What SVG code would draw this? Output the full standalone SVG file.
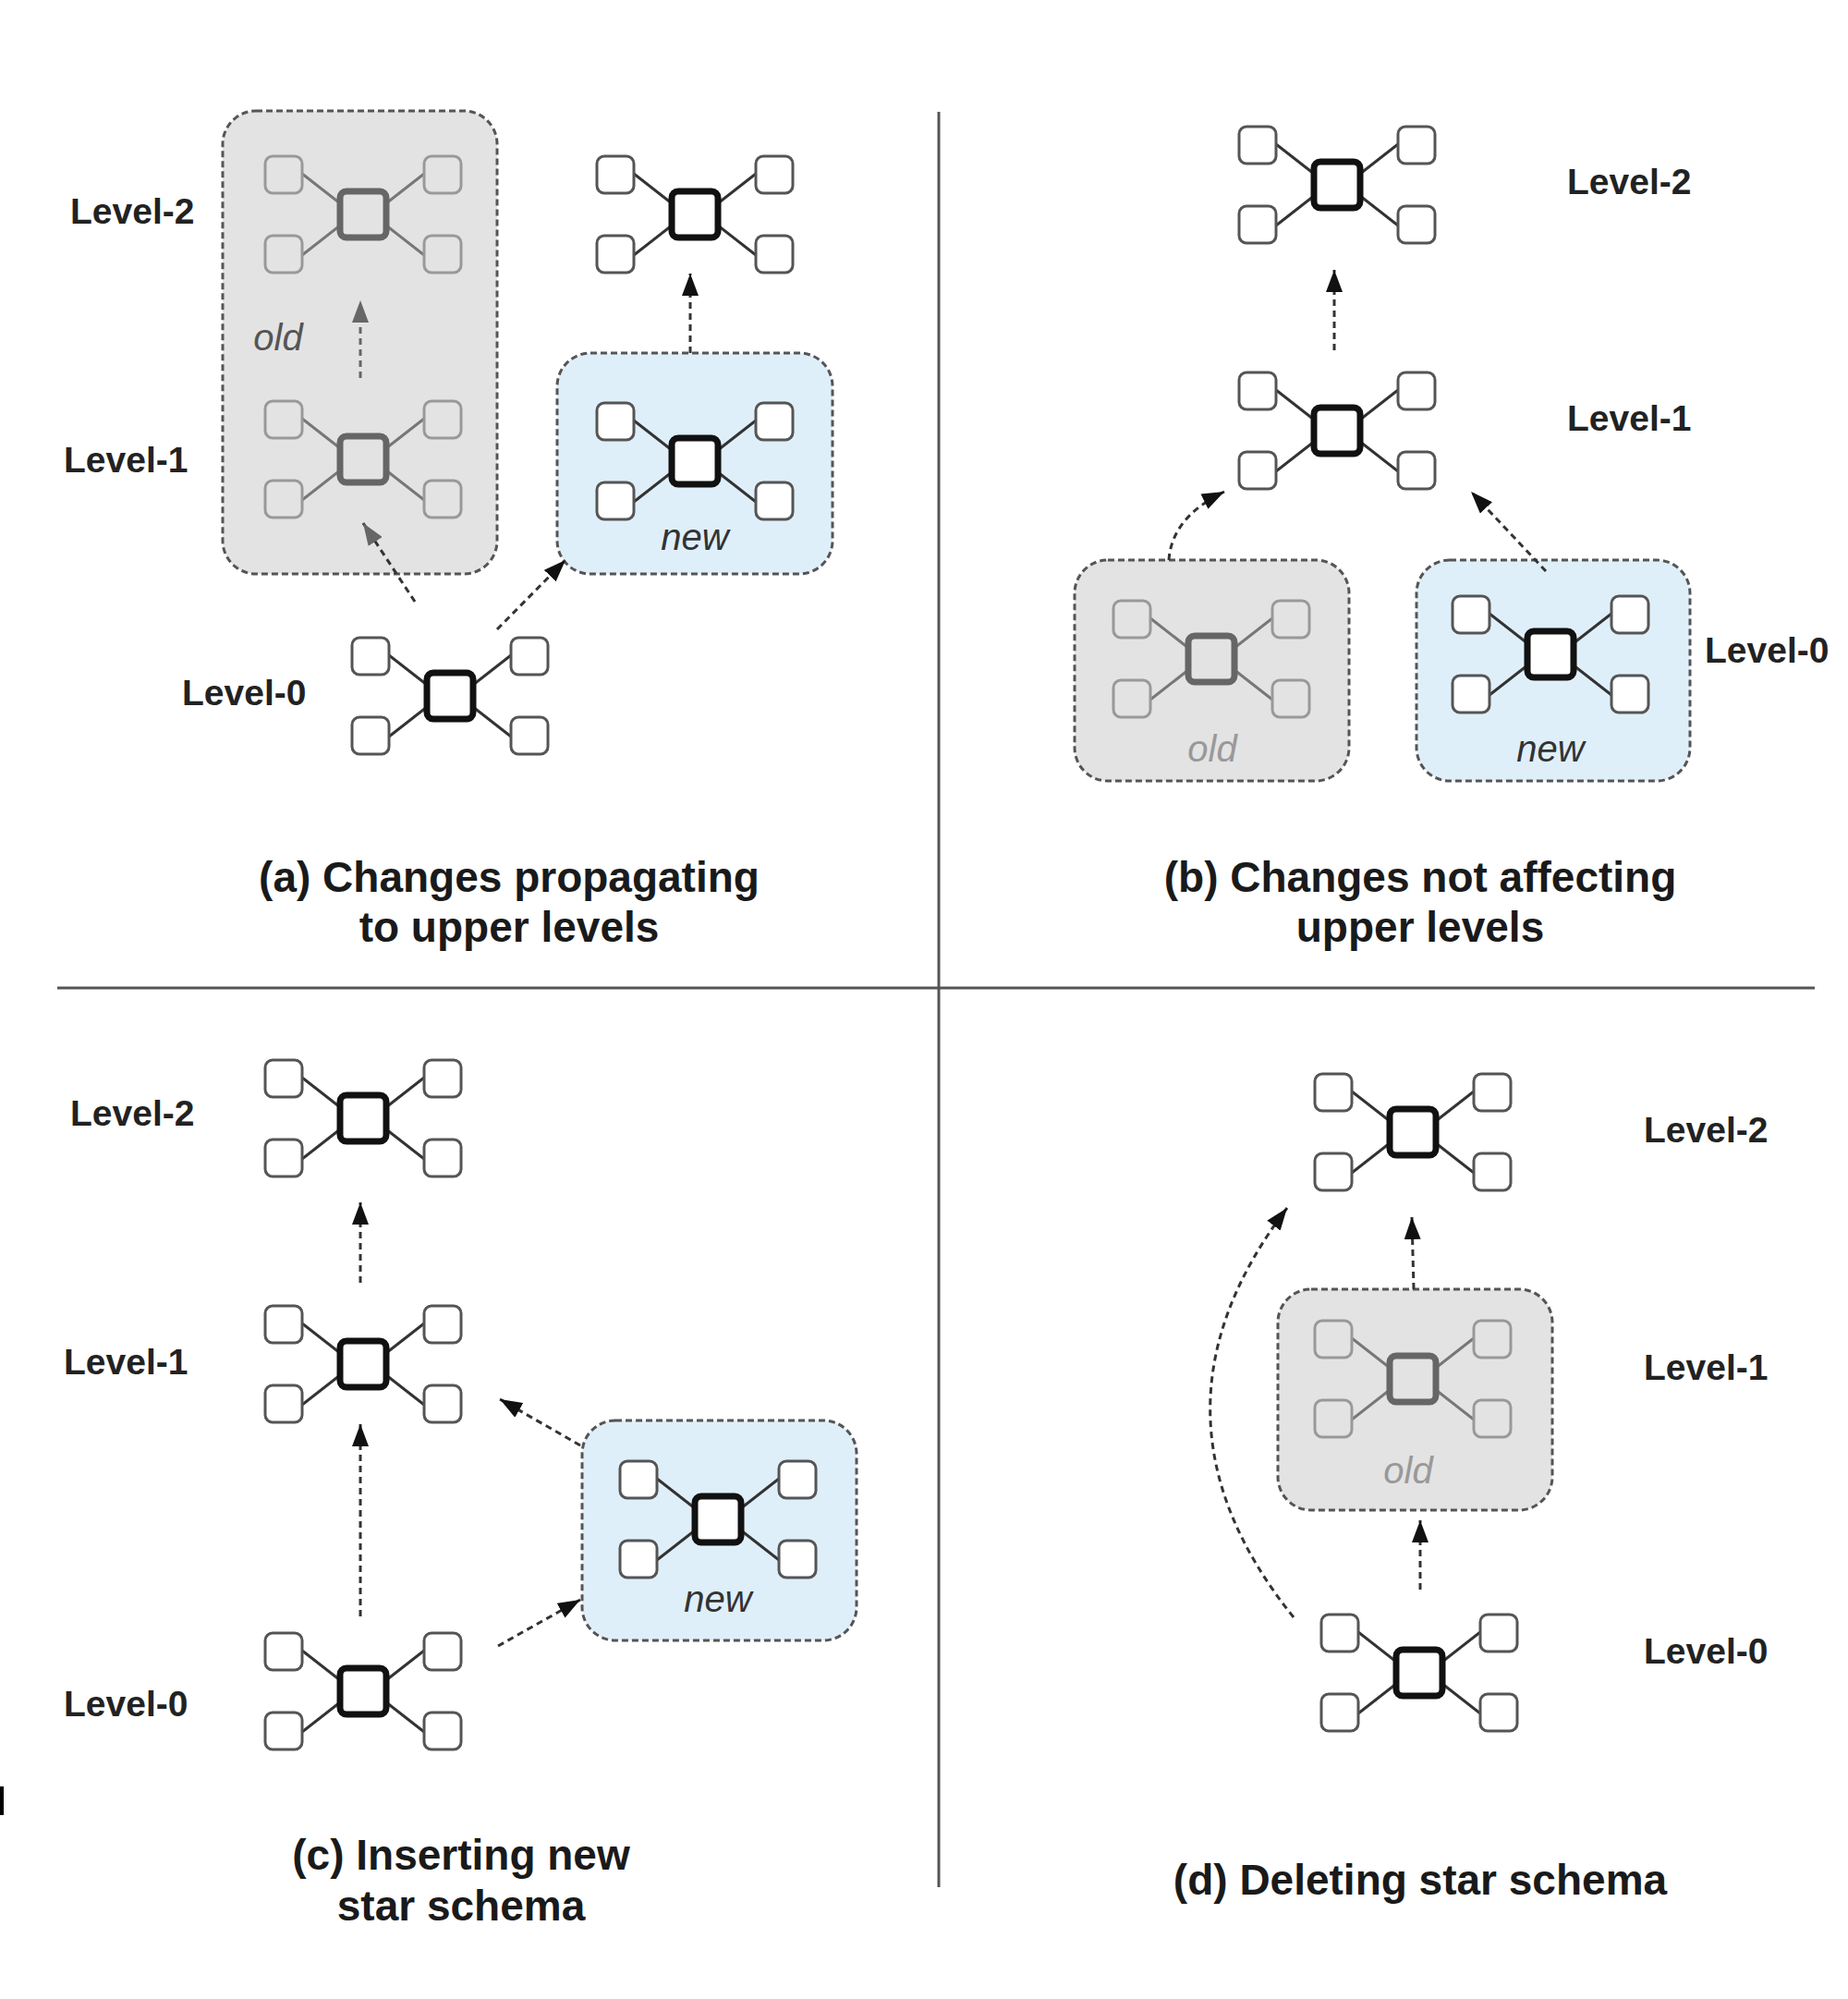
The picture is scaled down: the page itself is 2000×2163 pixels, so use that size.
<svg xmlns="http://www.w3.org/2000/svg" width="2000" height="2163" viewBox="0 0 2000 2163">
<style>
.bg{fill:#ffffff}
.div{stroke:#555;stroke-width:3;fill:none}
.lvl{font-family:"Liberation Sans",Arial,sans-serif;font-weight:bold;font-size:39px;fill:#222}
.cap{font-family:"Liberation Sans",Arial,sans-serif;font-weight:bold;font-size:46px;fill:#1a1a1a;text-anchor:middle}
.tag{font-family:"Liberation Sans",Arial,sans-serif;font-style:italic;font-size:40px;text-anchor:middle}
.tag-new{fill:#333}
.tag-old{fill:#999}
.tag-olddark{fill:#555}
.box-old{fill:#e3e3e3;stroke:#555;stroke-width:3;stroke-dasharray:7 4}
.box-new{fill:#dfeffa;stroke:#555;stroke-width:3;stroke-dasharray:7 4}
.spoke{stroke:#333;stroke-width:3;fill:none}
.sat{fill:#fff;stroke:#555;stroke-width:3}
.hub{fill:#fff;stroke:#111;stroke-width:7}
.spoke-o{stroke:#777;stroke-width:3;fill:none}
.sat-o{fill:none;stroke:#999;stroke-width:3}
.hub-o{fill:none;stroke:#666;stroke-width:7}
.arr{stroke:#333;stroke-width:3;fill:none;stroke-dasharray:7 5}
.arr-g{stroke:#666;stroke-width:3;fill:none;stroke-dasharray:7 5}
</style>
<defs>
<marker id="ah" viewBox="0 0 24 18" refX="24" refY="9" markerWidth="24" markerHeight="18" markerUnits="userSpaceOnUse" orient="auto">
<path d="M0,0 L24,9 L0,18 z" fill="#111"/>
</marker>
<marker id="ah-g" viewBox="0 0 24 18" refX="24" refY="9" markerWidth="24" markerHeight="18" markerUnits="userSpaceOnUse" orient="auto">
<path d="M0,0 L24,9 L0,18 z" fill="#666"/>
</marker>
<g id="star">
<path class="spoke" d="M-66,-44 L-25,-12 M-66,44 L-25,12 M66,-44 L25,-12 M66,44 L25,12"/>
<rect class="sat" x="-106" y="-63" width="40" height="40" rx="8"/>
<rect class="sat" x="66" y="-63" width="40" height="40" rx="8"/>
<rect class="sat" x="-106" y="23" width="40" height="40" rx="8"/>
<rect class="sat" x="66" y="23" width="40" height="40" rx="8"/>
<rect class="hub" x="-25" y="-25" width="50" height="50" rx="7"/>
</g>
<g id="star-old">
<path class="spoke-o" d="M-66,-44 L-25,-12 M-66,44 L-25,12 M66,-44 L25,-12 M66,44 L25,12"/>
<rect class="sat-o" x="-106" y="-63" width="40" height="40" rx="8"/>
<rect class="sat-o" x="66" y="-63" width="40" height="40" rx="8"/>
<rect class="sat-o" x="-106" y="23" width="40" height="40" rx="8"/>
<rect class="sat-o" x="66" y="23" width="40" height="40" rx="8"/>
<rect class="hub-o" x="-25" y="-25" width="50" height="50" rx="7"/>
</g>
</defs>
<rect class="bg" x="0" y="0" width="2000" height="2163"/>

<g id="dividers">
<line class="div" x1="1016" y1="121" x2="1016" y2="2042"/>
<line class="div" x1="62" y1="1069" x2="1964" y2="1069"/>
<rect x="0" y="1933" width="4" height="31" fill="#000"/>
</g>

<!-- Panel (a) -->
<g id="a-old-box">
<rect class="box-old" x="241" y="120" width="297" height="501" rx="36"/>
<text class="tag tag-olddark" x="301" y="379">old</text>
</g>
<g id="a-old-l2"><use href="#star-old" x="393" y="232"/></g>
<g id="a-old-l1"><use href="#star-old" x="393" y="497"/></g>
<g id="a-new-box">
<rect class="box-new" x="603" y="382" width="298" height="239" rx="36"/>
<text class="tag tag-new" x="752" y="595">new</text>
</g>
<g id="a-new-l1"><use href="#star" x="752" y="499"/></g>
<g id="a-l2"><use href="#star" x="752" y="232"/></g>
<g id="a-l0"><use href="#star" x="487" y="753"/></g>
<g id="a-labels">
<text class="lvl" x="76" y="242">Level-2</text>
<text class="lvl" x="69" y="511">Level-1</text>
<text class="lvl" x="197" y="763">Level-0</text>
</g>
<g id="a-caption">
<text class="cap" x="551" y="965">(a) Changes propagating</text>
<text class="cap" x="551" y="1019">to upper levels</text>
</g>

<!-- Panel (b) -->
<g id="b-l2"><use href="#star" x="1447" y="200"/></g>
<g id="b-l1"><use href="#star" x="1447" y="466"/></g>
<g id="b-old-box">
<rect class="box-old" x="1163" y="606" width="297" height="239" rx="36"/>
<use href="#star-old" x="1311" y="713"/>
<text class="tag tag-old" x="1312" y="824">old</text>
</g>
<g id="b-new-box">
<rect class="box-new" x="1533" y="606" width="296" height="239" rx="36"/>
<use href="#star" x="1678" y="708"/>
<text class="tag tag-new" x="1678" y="824">new</text>
</g>
<g id="b-labels">
<text class="lvl" x="1696" y="210">Level-2</text>
<text class="lvl" x="1696" y="466">Level-1</text>
<text class="lvl" x="1845" y="717">Level-0</text>
</g>
<g id="b-caption">
<text class="cap" x="1537" y="965">(b) Changes not affecting</text>
<text class="cap" x="1537" y="1019">upper levels</text>
</g>

<!-- Panel (c) -->
<g id="c-l2"><use href="#star" x="393" y="1210"/></g>
<g id="c-l1"><use href="#star" x="393" y="1476"/></g>
<g id="c-l0"><use href="#star" x="393" y="1830"/></g>
<g id="c-new-box">
<rect class="box-new" x="630" y="1537" width="297" height="238" rx="36"/>
<use href="#star" x="777" y="1644"/>
<text class="tag tag-new" x="777" y="1744">new</text>
</g>
<g id="c-labels">
<text class="lvl" x="76" y="1218">Level-2</text>
<text class="lvl" x="69" y="1487">Level-1</text>
<text class="lvl" x="69" y="1857">Level-0</text>
</g>
<g id="c-caption">
<text class="cap" x="499" y="2023">(c) Inserting new</text>
<text class="cap" x="499" y="2078">star schema</text>
</g>

<!-- Panel (d) -->
<g id="d-l2"><use href="#star" x="1529" y="1225"/></g>
<g id="d-old-box">
<rect class="box-old" x="1383" y="1395" width="297" height="239" rx="36"/>
<use href="#star-old" x="1529" y="1492"/>
<text class="tag tag-old" x="1524" y="1605">old</text>
</g>
<g id="d-l0"><use href="#star" x="1536" y="1810"/></g>
<g id="d-labels">
<text class="lvl" x="1779" y="1236">Level-2</text>
<text class="lvl" x="1779" y="1493">Level-1</text>
<text class="lvl" x="1779" y="1800">Level-0</text>
</g>
<g id="d-caption">
<text class="cap" x="1537" y="2050">(d) Deleting star schema</text>
</g>

<g id="connectors">
<path class="arr-g" d="M390,409 L390,325" marker-end="url(#ah-g)"/>
<path class="arr" d="M449,651 L393,566" marker-end="url(#ah-g)"/>
<path class="arr" d="M538,681 L612,606" marker-end="url(#ah)"/>
<path class="arr" d="M747,382 L747,296" marker-end="url(#ah)"/>
<path class="arr" d="M1444,379 L1444,292" marker-end="url(#ah)"/>
<path class="arr" d="M1265,606 Q1268,560 1325,532" marker-end="url(#ah)"/>
<path class="arr" d="M1673,618 L1592,532" marker-end="url(#ah)"/>
<path class="arr" d="M390,1388 L390,1301" marker-end="url(#ah)"/>
<path class="arr" d="M390,1749 L390,1541" marker-end="url(#ah)"/>
<path class="arr" d="M628,1564 L541,1514" marker-end="url(#ah)"/>
<path class="arr" d="M539,1781 L628,1731" marker-end="url(#ah)"/>
<path class="arr" d="M1530,1395 L1528,1317" marker-end="url(#ah)"/>
<path class="arr" d="M1537,1720 L1537,1645" marker-end="url(#ah)"/>
<path class="arr" d="M1400,1750 Q1223,1530 1393,1307" marker-end="url(#ah)"/>
</g>
</svg>
